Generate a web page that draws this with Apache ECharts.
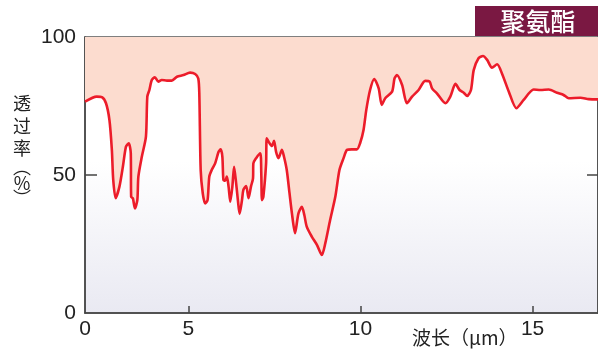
<!DOCTYPE html>
<html>
<head>
<meta charset="utf-8">
<script src="https://cdn.jsdelivr.net/npm/echarts@6/dist/echarts.min.js"></script>
<style>html,body{margin:0;padding:0;background:#fff}#c{width:598px;height:361px}</style>
</head>
<body>
<div id="c"></div>
<script>
// wavelength (µm) — axis starts at 2 µm (labelled "0")
const wavelength = [2.00,2.34,2.49,2.61,2.71,2.78,2.82,2.89,3.00,3.10,3.19,3.27,3.33,3.34,3.39,3.45,3.52,3.55,3.65,3.77,3.81,3.87,3.94,4.03,4.13,4.23,4.38,4.52,4.67,4.86,5.05,5.20,5.29,5.32,5.36,5.42,5.49,5.56,5.61,5.68,5.78,5.88,5.94,5.99,6.02,6.07,6.12,6.17,6.22,6.28,6.33,6.39,6.44,6.49,6.56,6.60,6.68,6.75,6.82,6.88,6.89,6.97,7.09,7.12,7.14,7.18,7.26,7.28,7.36,7.43,7.49,7.55,7.62,7.72,7.78,7.86,7.94,8.01,8.10,8.20,8.30,8.37,8.44,8.59,8.74,8.88,8.98,9.12,9.27,9.39,9.51,9.61,9.75,9.90,9.99,10.09,10.17,10.28,10.40,10.53,10.62,10.72,10.92,10.99,11.06,11.21,11.35,11.50,11.69,11.88,12.01,12.08,12.22,12.47,12.61,12.76,12.88,13.00,13.10,13.21,13.29,13.43,13.56,13.68,13.82,13.97,14.11,14.31,14.53,14.74,15.03,15.23,15.47,15.71,15.90,16.05,16.39,16.63,16.92];
// transmittance (%)
const transmittance = [76.6,78.4,78.2,76.0,69.9,59.1,48.2,41.6,45.8,53.0,60.3,61.5,57.9,42.1,41.6,37.9,40.9,49.4,56.6,63.9,78.4,80.8,84.4,85.4,83.8,84.4,84.2,84.2,85.6,86.2,87.1,86.6,85.0,79.6,51.8,43.4,39.7,40.9,49.4,51.8,54.2,58.4,59.3,56.6,48.2,47.9,49.4,45.8,40.3,45.8,53.0,47.0,40.9,35.9,40.9,44.6,46.0,41.6,45.8,48.8,54.2,56.1,57.9,50.6,40.9,42.1,54.2,63.3,61.5,60.5,62.4,58.4,56.1,59.1,56.6,51.8,43.4,36.1,28.9,36.1,38.5,35.5,31.3,27.6,24.6,21.0,25.3,33.7,42.1,51.8,56.1,59.1,59.3,59.3,61.5,66.3,73.6,80.8,84.8,81.4,75.4,77.8,80.2,85.0,86.2,82.6,76.0,78.4,80.8,84.1,83.8,81.4,79.6,76.0,78.4,83.0,80.8,79.8,78.6,80.8,88.0,92.3,93.1,91.7,88.9,90.1,86.8,80.2,74.2,77.2,81.0,80.8,81.0,79.8,79.0,77.8,78.0,77.5,77.4];
const xTickValues = [5, 10, 15];
const xLabelValues = [2, 5, 10, 15];
const yTickLabels = [0, 50, 100];
const title = '聚氨酯';
const yName = ['透','过','率','︵','%','︶'];
const xName = '波长（μm）';

const chart = echarts.init(document.getElementById('c'), null, {renderer: 'canvas'});
const numFont = '"Liberation Sans", Arial, sans-serif';
const cjkFont = '"Noto Sans CJK SC", sans-serif';
const yNamePos = [103, 126, 148, 167, 183, 198];

chart.setOption({
  animation: false,
  grid: {
    left: 85, top: 37, right: 0, bottom: 48,
    show: true,
    borderColor: '#555', borderWidth: 1.5,
    backgroundColor: new echarts.graphic.LinearGradient(0, 0, 0, 1, [
      {offset: 0, color: '#ffffff'},
      {offset: 0.45, color: '#ffffff'},
      {offset: 1, color: '#e9e9f2'}
    ])
  },
  xAxis: {
    type: 'value', min: 2, max: 16.9,
    axisLine: {show: true, lineStyle: {color: '#444', width: 1.5}},
    axisTick: {show: true, inside: true, length: 7, customValues: xTickValues, lineStyle: {color: '#444', width: 1.5}},
    axisLabel: {
      customValues: xLabelValues, margin: 6,
      formatter: v => (v === 2 ? '0' : String(v)),
      fontFamily: numFont, fontSize: 21, color: '#222'
    },
    splitLine: {show: false}
  },
  yAxis: [{
    type: 'value', min: 0, max: 100, interval: 50,
    axisLine: {show: true, lineStyle: {color: '#444', width: 1.5}},
    axisTick: {show: true, inside: true, length: 12, customValues: [50], lineStyle: {color: '#444', width: 1.5}},
    axisLabel: {customValues: yTickLabels, margin: 9, fontFamily: numFont, fontSize: 21, color: '#222'},
    splitLine: {show: false}
  }, {
    type: 'value', min: 0, max: 100, interval: 50, position: 'right',
    axisLine: {show: true, lineStyle: {color: '#444', width: 1.5}},
    axisTick: {show: true, inside: true, length: 11, customValues: [50], lineStyle: {color: '#444', width: 1.5}},
    axisLabel: {show: false},
    splitLine: {show: false}
  }],
  series: [{
    type: 'line',
    data: wavelength.map((x, i) => [x, transmittance[i]]),
    showSymbol: false,
    smooth: 0.25,
    lineStyle: {color: '#ec1c2a', width: 2.6},
    areaStyle: {origin: 'end', color: '#fcdccf', opacity: 1},
    clip: true
  }],
  graphic: [
    {type: 'rect', left: 475, top: 6, shape: {width: 123, height: 30}, style: {fill: '#7a1842'}},
    {type: 'text', x: 538, y: 21, style: {text: title, fill: '#fff', font: '500 25px ' + cjkFont, textAlign: 'center', textVerticalAlign: 'middle'}},
    ...yName.map((ch, i) => ({type: 'text', x: 22, y: yNamePos[i], style: {text: ch, fill: '#222', font: '18px ' + cjkFont, textAlign: 'center', textVerticalAlign: 'middle'}})),
    {type: 'text', x: 412, y: 338, style: {text: xName, fill: '#222', font: '19px ' + cjkFont, textAlign: 'left', textVerticalAlign: 'middle'}}
  ]
});
</script>
</body>
</html>
